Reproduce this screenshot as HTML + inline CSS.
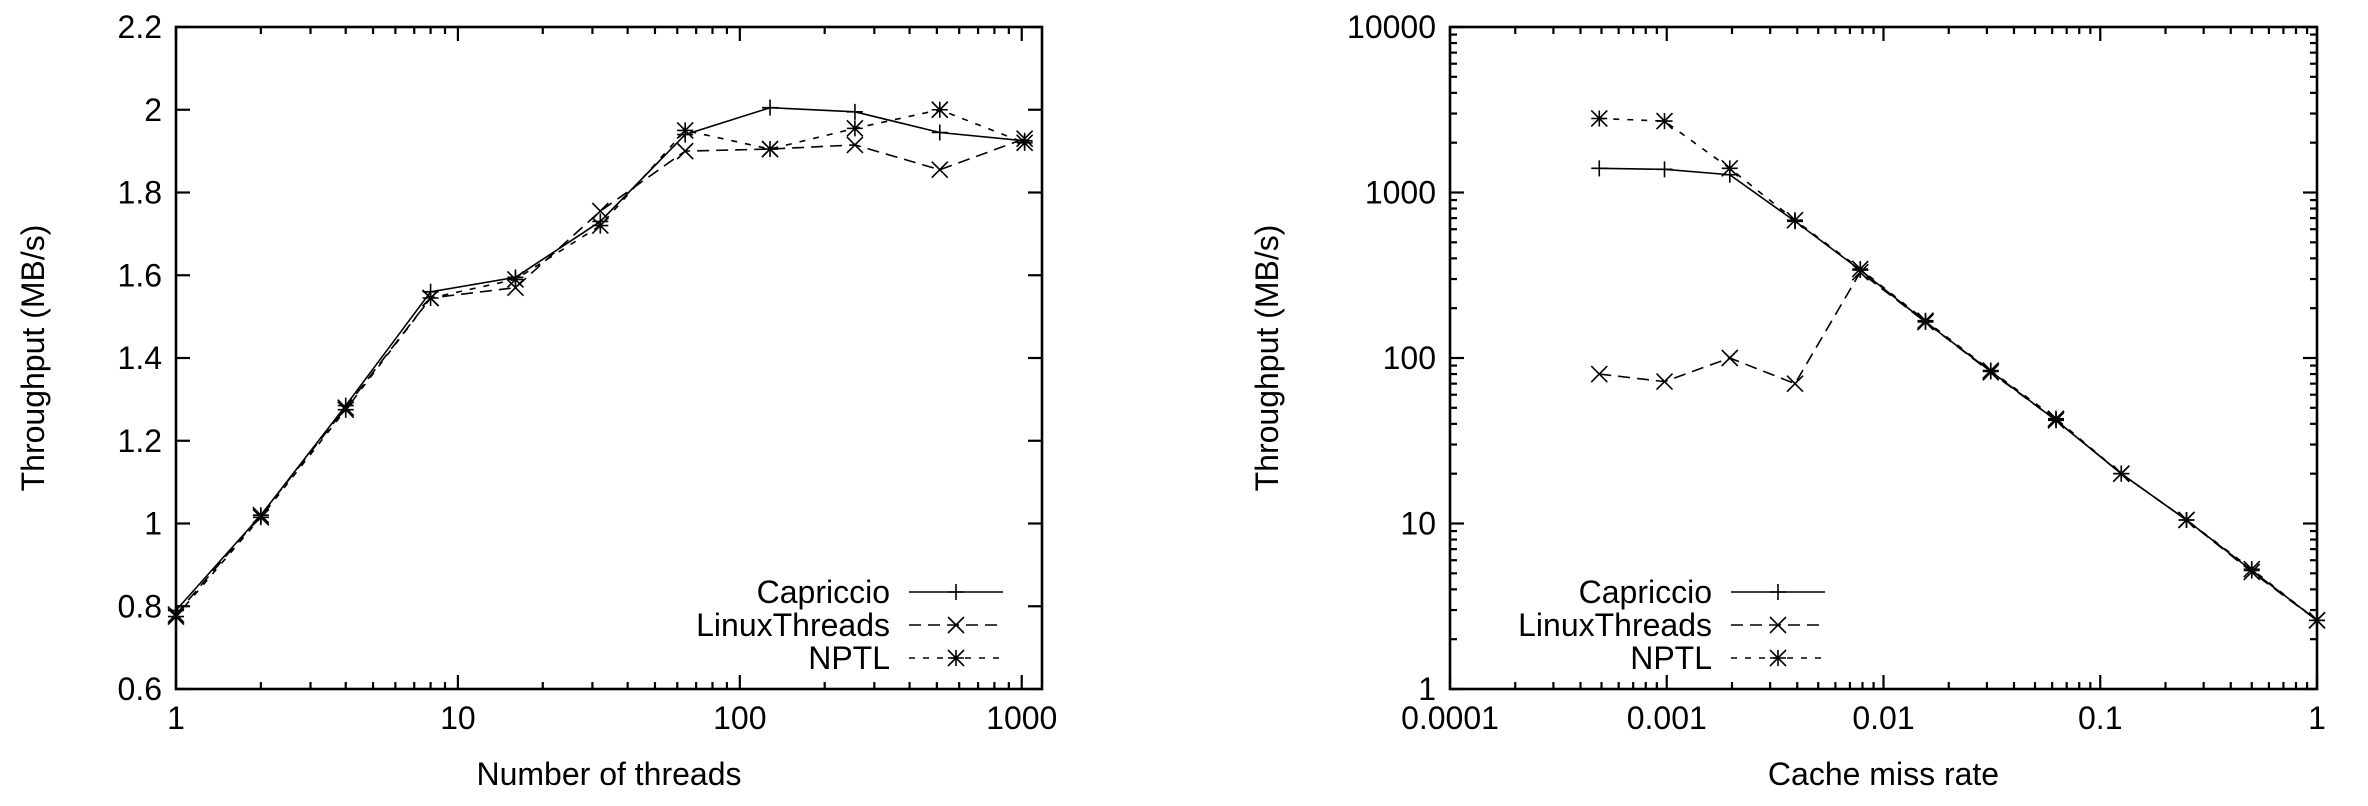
<!DOCTYPE html>
<html><head><meta charset="utf-8"><style>
html,body{margin:0;padding:0;background:#fff;}
svg{display:block;font-family:"Liberation Sans",sans-serif;}
</style></head><body>
<svg id="chart" width="2368" height="806" viewBox="0 0 2368 806" xmlns="http://www.w3.org/2000/svg"></svg>
<script>
// Left chart data (threads vs throughput)
const threadCounts = [1,2,4,8,16,32,64,128,256,512,1024];
const capriccioThreads = [0.79,1.02,1.285,1.56,1.595,1.73,1.94,2.005,1.995,1.945,1.925];
const linuxThreadsThreads = [0.78,1.02,1.28,1.545,1.57,1.755,1.90,1.905,1.915,1.855,1.93];
const nptlThreads = [0.775,1.015,1.275,1.545,1.59,1.72,1.95,1.905,1.955,2.0,1.92];
const leftYTicks = [0.6,0.8,1,1.2,1.4,1.6,1.8,2,2.2];
const leftYTickLabels = ["0.6","0.8","1","1.2","1.4","1.6","1.8","2","2.2"];
const leftXTicks = [1,10,100,1000];
const leftXTickLabels = ["1","10","100","1000"];
// Right chart data (cache miss rate vs throughput)
const missRates = [1/2048,1/1024,1/512,1/256,1/128,1/64,1/32,1/16,1/8,1/4,1/2,1];
const capriccioMiss = [1400,1380,1280,670,340,165,83,42,20,10.5,5.2,2.6];
const linuxThreadsMiss = [80,72,100,70,330,165,82,42,20,10.5,5.1,2.6];
const nptlMiss = [2800,2700,1400,680,345,168,84,43,20,10.5,5.3,2.6];
const rightXTicks = [0.0001,0.001,0.01,0.1,1];
const rightXTickLabels = ["0.0001","0.001","0.01","0.1","1"];
const rightYTicks = [1,10,100,1000,10000];
const rightYTickLabels = ["1","10","100","1000","10000"];
const seriesNames = ["Capriccio","LinuxThreads","NPTL"];

const svg = document.getElementById('chart');
const NS = 'http://www.w3.org/2000/svg';
const FS = 32;
function mk(tag, attrs, parent){
  const e = document.createElementNS(NS, tag);
  for (const k in attrs) e.setAttribute(k, attrs[k]);
  (parent||svg).appendChild(e);
  return e;
}
const dashes = ["", "12,7", "6,8"];

function marker(g, kind, x, y){
  const s = 8;
  let d;
  if (kind===0) d = `M${x-s},${y}H${x+s}M${x},${y-s}V${y+s}`;
  else if (kind===1) d = `M${x-s},${y-s}L${x+s},${y+s}M${x-s},${y+s}L${x+s},${y-s}`;
  else d = `M${x-s},${y}H${x+s}M${x},${y-s}V${y+s}M${x-s},${y-s}L${x+s},${y+s}M${x-s},${y+s}L${x+s},${y-s}`;
  mk('path',{d:d,stroke:'#000','stroke-width':1.6,fill:'none'},g);
}

function drawChart(cfg){
  const {L,R,T,B} = cfg;
  const root = mk('g',{});
  
  
  const ticks = mk('g',{stroke:'#000','stroke-width':2.2},root);
  
  
  cfg.yTicks.forEach((v,i)=>{
    const y = cfg.sy(v);
    mk('line',{x1:L,x2:L+14,y1:y,y2:y},ticks);
    mk('line',{x1:R,x2:R-14,y1:y,y2:y},ticks);
    const t = mk('text',{x:L-14,y:y+11,'text-anchor':'end','font-size':FS,fill:'#000'},root);
    t.textContent = cfg.yLabels[i];
    
    
    if (cfg.yLog && i < cfg.yTicks.length-1){
      for (let m=2;m<10;m++){
        const ym = cfg.sy(v*m);
        mk('line',{x1:L,x2:L+7,y1:ym,y2:ym},ticks);
        mk('line',{x1:R,x2:R-7,y1:ym,y2:ym},ticks);
      }
    }
  });
  cfg.xTicks.forEach((v,i)=>{
    const x = cfg.sx(v);
    mk('line',{x1:x,x2:x,y1:B,y2:B-14},ticks);
    mk('line',{x1:x,x2:x,y1:T,y2:T+14},ticks);
    const t = mk('text',{x:x,y:B+40,'text-anchor':'middle','font-size':FS,fill:'#000'},root);
    t.textContent = cfg.xLabels[i];
    
    
    for (let m=2;m<10;m++){
      const vm = v*m;
      if (vm > cfg.xMax) break;
      if (i === cfg.xTicks.length-1) break;
      const xm = cfg.sx(vm);
      mk('line',{x1:xm,x2:xm,y1:B,y2:B-7},ticks);
      mk('line',{x1:xm,x2:xm,y1:T,y2:T+7},ticks);
    }
  });
  const fr = mk('rect',{x:L,y:T,width:R-L,height:B-T,fill:'none',stroke:'#000','stroke-width':2.6},root);
  
  
  const xt = mk('text',{x:(L+R)/2,y:B+96,'text-anchor':'middle','font-size':FS,fill:'#000'},root);
  xt.textContent = cfg.xTitle;
  
  
  const yt = mk('text',{x:0,y:0,'text-anchor':'middle','font-size':FS,fill:'#000',transform:`translate(${cfg.yTitleX},${(T+B)/2}) rotate(-90)`},root);
  yt.textContent = 'Throughput (MB/s)';
  
  
  cfg.series.forEach((vals,si)=>{
    const g = mk('g',{},root);
    
    
    const pts = vals.map((v,i)=>[cfg.sx(cfg.xs[i]), cfg.sy(v)]);
    mk('polyline',{points:pts.map(p=>p.join(',')).join(' '),fill:'none',stroke:'#000','stroke-width':1.6,'stroke-dasharray':dashes[si]||'none'},g);
    pts.forEach(q=>marker(g,si,q[0],q[1]));
  });
  const lg = mk('g',{},root);
  
  
  const rows = [592,625,658];
  seriesNames.forEach((n,si)=>{
    const e = mk('g',{},lg);
    
    
    const t = mk('text',{x:cfg.legX,y:rows[si]+11,'text-anchor':'end','font-size':FS,fill:'#000'},e);
    t.textContent = n;
    mk('line',{x1:cfg.legX+19,x2:cfg.legX+113,y1:rows[si],y2:rows[si],stroke:'#000','stroke-width':1.6,'stroke-dasharray':dashes[si]||'none'},e);
    marker(e,si,cfg.legX+66,rows[si]);
  });
}

(function(){
  const L=176,R=1042,T=27,B=689;
  const xMin=1,xMax=1180;
  const sx=v=>L+(Math.log10(v)-Math.log10(xMin))/(Math.log10(xMax)-Math.log10(xMin))*(R-L);
  const sy=v=>B-(v-0.6)/(2.2-0.6)*(B-T);
  drawChart({name:'threads-chart',L,R,T,B,sx,sy,xMax,xs:threadCounts,
    series:[capriccioThreads,linuxThreadsThreads,nptlThreads],
    yTicks:leftYTicks,yLabels:leftYTickLabels,xTicks:leftXTicks,xLabels:leftXTickLabels,
    yLog:false,xTitle:'Number of threads',yTitleX:44,legX:890});
})();
(function(){
  const L=1450,R=2317,T=27,B=689;
  const sx=v=>L+(Math.log10(v)+4)/4*(R-L);
  const sy=v=>B-Math.log10(v)/4*(B-T);
  drawChart({name:'cache-miss-chart',L,R,T,B,sx,sy,xMax:1,xs:missRates,
    series:[capriccioMiss,linuxThreadsMiss,nptlMiss],
    yTicks:rightYTicks,yLabels:rightYTickLabels,xTicks:rightXTicks,xLabels:rightXTickLabels,
    yLog:true,xTitle:'Cache miss rate',yTitleX:1278,legX:1712});
})();
</script>
</body></html>
